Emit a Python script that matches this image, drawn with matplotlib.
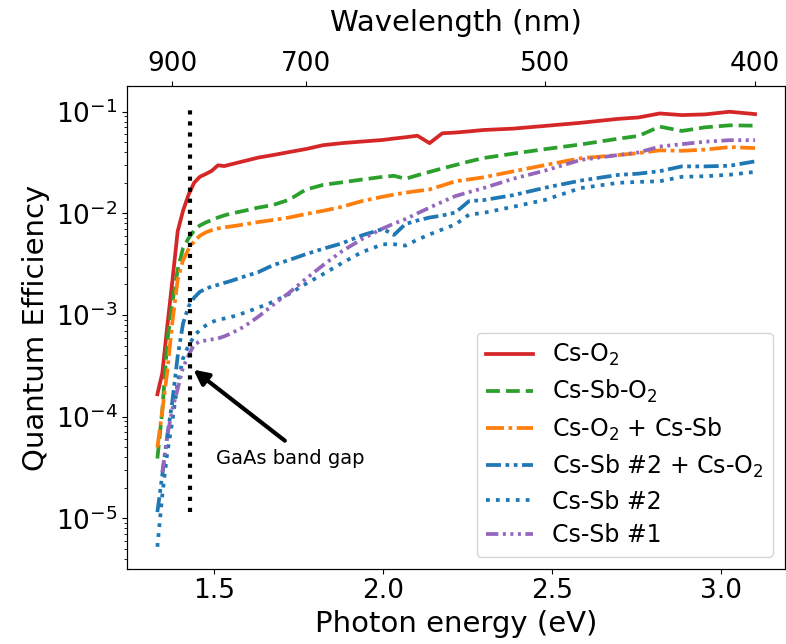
import matplotlib.pyplot as plt
import numpy as np

# wavelengths of the scan (nm), shared by all curves
wavelength = [930, 920, 910, 900, 890, 880, 870, 860, 850, 840, 830, 820, 810,
              800, 780, 760, 740, 720, 700, 680, 660, 640, 620, 610, 600, 590,
              580, 570, 560, 550, 540, 520, 500, 480, 460, 450, 440, 430, 420,
              410, 400]

qe_cs_o2 = [1.66e-4, 2.67e-4, 7.78e-4, 2.18e-3, 6.64e-3, 1.06e-2, 1.52e-2,
            2.00e-2, 2.29e-2, 2.44e-2, 2.62e-2, 2.97e-2, 2.92e-2, 3.03e-2,
            3.27e-2, 3.54e-2, 3.75e-2, 4.01e-2, 4.29e-2, 4.69e-2, 4.91e-2,
            5.09e-2, 5.28e-2, 5.45e-2, 5.61e-2, 5.81e-2, 4.91e-2, 6.14e-2,
            6.24e-2, 6.41e-2, 6.61e-2, 6.82e-2, 7.26e-2, 7.78e-2, 8.51e-2,
            8.79e-2, 9.62e-2, 9.27e-2, 9.42e-2, 1.00e-1, 9.48e-2]

qe_cs_sb_o2 = [3.87e-5, 1.14e-4, 5.50e-4, 1.35e-3, 2.77e-3, 4.54e-3, 5.68e-3,
               6.79e-3, 7.60e-3, 8.13e-3, 8.61e-3, 9.10e-3, 9.55e-3, 9.95e-3,
               1.06e-2, 1.14e-2, 1.21e-2, 1.36e-2, 1.71e-2, 1.91e-2, 2.02e-2,
               2.15e-2, 2.29e-2, 2.34e-2, 2.19e-2, 2.37e-2, 2.56e-2, 2.77e-2,
               2.99e-2, 3.24e-2, 3.50e-2, 3.87e-2, 4.29e-2, 4.76e-2, 5.43e-2,
               5.78e-2, 7.14e-2, 6.47e-2, 7.03e-2, 7.35e-2, 7.29e-2]

qe_cs_o2_cs_sb = [4.98e-5, 1.14e-4, 2.80e-4, 8.61e-4, 2.21e-3, 3.46e-3, 4.44e-3,
                  5.31e-3, 6.01e-3, 6.50e-3, 6.84e-3, 7.11e-3, 7.28e-3, 7.43e-3,
                  7.78e-3, 8.22e-3, 8.61e-3, 9.10e-3, 9.84e-3, 1.06e-2, 1.16e-2,
                  1.32e-2, 1.46e-2, 1.53e-2, 1.60e-2, 1.66e-2, 1.72e-2, 1.88e-2,
                  2.07e-2, 2.16e-2, 2.26e-2, 2.59e-2, 2.99e-2, 3.48e-2, 3.75e-2,
                  3.92e-2, 4.17e-2, 4.13e-2, 4.24e-2, 4.49e-2, 4.39e-2]

qe_cs_sb2_cs_o2 = [1.15e-5, 2.65e-5, 6.50e-5, 1.43e-4, 3.92e-4, 8.22e-4, 1.21e-3,
                   1.48e-3, 1.69e-3, 1.81e-3, 1.91e-3, 1.98e-3, 2.07e-3, 2.16e-3,
                   2.39e-3, 2.64e-3, 3.10e-3, 3.47e-3, 3.96e-3, 4.49e-3, 5.07e-3,
                   6.07e-3, 7.03e-3, 6.14e-3, 7.87e-3, 8.51e-3, 9.10e-3, 9.53e-3,
                   1.02e-2, 1.32e-2, 1.35e-2, 1.51e-2, 1.79e-2, 2.10e-2, 2.39e-2,
                   2.46e-2, 2.60e-2, 2.90e-2, 2.90e-2, 2.94e-2, 3.25e-2]

qe_cs_sb2 = [5.24e-6, 1.68e-5, 4.43e-5, 9.10e-5, 2.14e-4, 3.74e-4, 5.01e-4,
             6.14e-4, 7.18e-4, 7.87e-4, 8.51e-4, 8.99e-4, 9.23e-4, 9.53e-4,
             1.05e-3, 1.18e-3, 1.35e-3, 1.61e-3, 2.02e-3, 2.53e-3, 3.24e-3,
             4.15e-3, 4.97e-3, 4.97e-3, 4.82e-3, 5.50e-3, 6.21e-3, 6.95e-3,
             7.78e-3, 9.73e-3, 1.01e-2, 1.16e-2, 1.36e-2, 1.77e-2, 2.00e-2,
             2.04e-2, 2.07e-2, 2.29e-2, 2.32e-2, 2.40e-2, 2.56e-2]

qe_cs_sb1 = [np.nan, 2.83e-5, 6.50e-5, 1.19e-4, 1.87e-4, 3.05e-4, 4.00e-4,
             5.13e-4, 5.48e-4, 5.61e-4, 5.75e-4, 5.87e-4, 6.17e-4, 6.56e-4,
             7.69e-4, 9.62e-4, 1.26e-3, 1.65e-3, 2.26e-3, 3.10e-3, 4.24e-3,
             5.57e-3, 7.11e-3, 7.94e-3, 8.79e-3, 1.00e-2, 1.14e-2, 1.30e-2,
             1.48e-2, 1.62e-2, 1.77e-2, 2.19e-2, 2.64e-2, 3.35e-2, 3.75e-2,
             3.98e-2, 4.54e-2, 4.80e-2, 5.07e-2, 5.25e-2, 5.25e-2]

top_ticks_nm = [900, 700, 500, 400]
gaas_gap = 1.43  # eV
HC = 1240.0  # eV*nm

energy = HC / np.array(wavelength)

fig = plt.figure(figsize=(7.86, 6.44), dpi=100)
ax = fig.add_axes([0.1622, 0.1169, 0.8365, 0.7489])

lw = 2.7
ax.plot(energy, qe_cs_o2, color="tab:red", lw=lw, label=r"Cs-O$_2$")
ax.plot(energy, qe_cs_sb_o2, color="tab:green", lw=lw, ls="--",
        label=r"Cs-Sb-O$_2$")
ax.plot(energy, qe_cs_o2_cs_sb, color="tab:orange", lw=lw,
        ls=(0, (4.8, 1.2, 1.0, 1.2)), label=r"Cs-O$_2$ + Cs-Sb")
ax.plot(energy, qe_cs_sb2_cs_o2, color="tab:blue", lw=lw,
        ls=(0, (4.0, 1.2, 1.0, 1.2, 1.0, 1.2)), label=r"Cs-Sb #2 + Cs-O$_2$")
ax.plot(energy, qe_cs_sb2, color="tab:blue", lw=lw, ls=":",
        label="Cs-Sb #2")
ax.plot(energy, qe_cs_sb1, color="tab:purple", lw=lw,
        ls=(0, (3.3, 1.2, 0.8, 1.2, 0.8, 1.2, 0.8, 1.2)), label="Cs-Sb #1")

ax.set_yscale("log")

# GaAs band gap marker
ax.plot([gaas_gap, gaas_gap], [1.15e-5, 1.08e-1], color="k", lw=3, ls=":")
ax.annotate("", xy=(1.44, 2.9e-4), xytext=(1.71, 5.8e-5),
            arrowprops=dict(arrowstyle="-|>", color="k", lw=3,
                            mutation_scale=22, shrinkA=0, shrinkB=0))
ax.text(1.727, 3.9e-5, "GaAs band gap", fontsize=14, ha="center",
        va="center")

ax.set_xlabel("Photon energy (eV)", fontsize=21)
ax.set_ylabel("Quantum Efficiency", fontsize=21)
ax.set_xticks([1.5, 2.0, 2.5, 3.0])
ax.tick_params(labelsize=19)
ax.legend(loc="lower right", fontsize=17, labelspacing=0.42)

# wavelength axis on top
ax2 = ax.twiny()
ax2.set_xlim(ax.get_xlim())
ax2.set_xticks([HC / w for w in top_ticks_nm])
ax2.set_xticklabels([str(w) for w in top_ticks_nm])
ax2.tick_params(labelsize=19)
ax2.set_xlabel("Wavelength (nm)", fontsize=21, labelpad=14)

fig.savefig("out.png", dpi=100)
